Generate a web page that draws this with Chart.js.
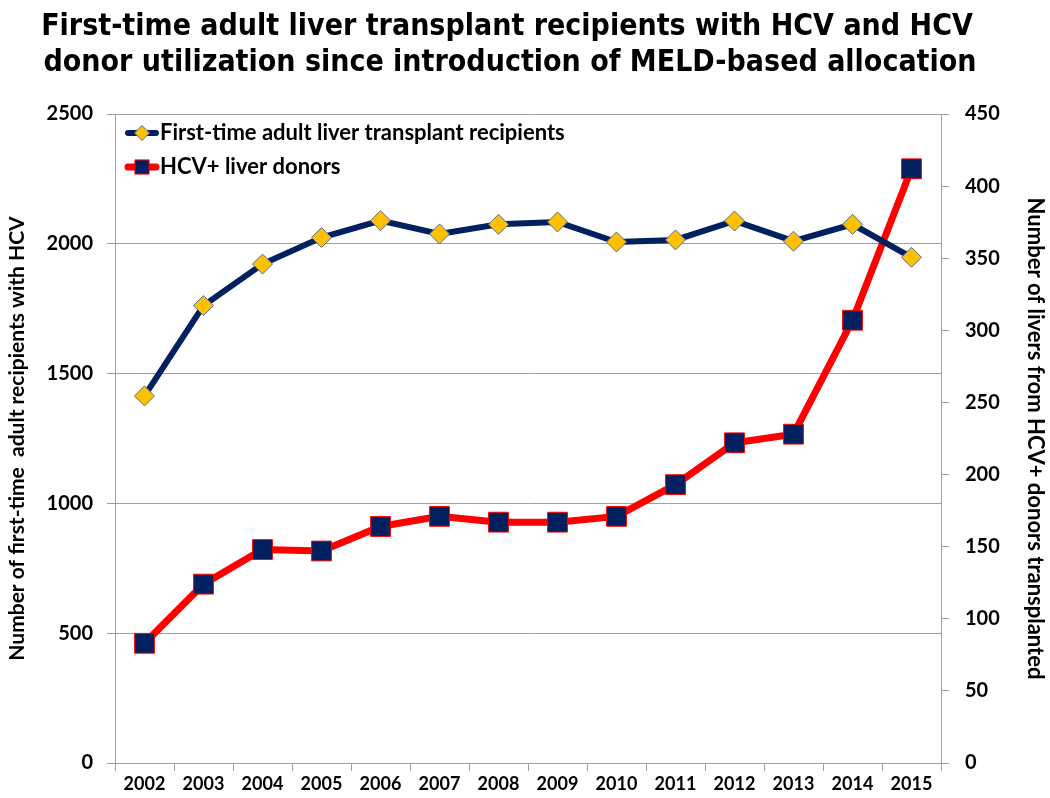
<!DOCTYPE html>
<html>
<head>
<meta charset="utf-8">
<script src="https://cdn.jsdelivr.net/npm/chart.js@4.4.1/dist/chart.umd.min.js"></script>
<style>
  html, body { margin: 0; padding: 0; background: #ffffff; }
  #wrap { width: 1050px; height: 798px; position: relative; }
</style>
</head>
<body>
<div id="wrap"><canvas id="c" width="1050" height="798"></canvas></div>
<script>
const years = ['2002','2003','2004','2005','2006','2007','2008','2009','2010','2011','2012','2013','2014','2015'];
const recipients = [1414, 1762, 1922, 2024, 2089, 2038, 2075, 2084, 2007, 2015, 2088, 2010, 2075, 1948];
const hcvDonors = [83, 124, 148, 147, 164, 171, 167, 167, 171, 193, 222, 228, 307, 412];
const leftTicks = [0, 500, 1000, 1500, 2000, 2500];
const rightTicks = [0, 50, 100, 150, 200, 250, 300, 350, 400, 450];
const seriesNames = ['First-time adult liver transplant recipients', 'HCV+ liver donors'];
const titleLines = ['First-time adult liver transplant recipients with HCV and HCV', 'donor utilization since introduction of MELD-based allocation'];
const leftAxisTitle = 'Number of first-time  adult recipients with HCV';
const rightAxisTitle = 'Number of livers from HCV+ donors transplanted';

const BODY = 'Lato, "Open Sans", sans-serif';
const TITLE_FONT = '"Liberation Sans Narrow", "DejaVu Sans Condensed", Lato, sans-serif';

const titlePlugin = {
  id: 'customTitle',
  afterDraw(chart) {
    const ctx = chart.ctx;
    ctx.save();
    ctx.fillStyle = '#000000';
    ctx.font = 'bold 30px ' + TITLE_FONT;
    ctx.textAlign = 'center';
    ctx.textBaseline = 'middle';
    ctx.fillText(titleLines[0], 507, 27);
    ctx.fillText(titleLines[1], 510, 63);
    ctx.restore();
  }
};

const legendPlugin = {
  id: 'customLegend',
  afterDatasetsDraw(chart) {
    const ctx = chart.ctx;
    const x0 = chart.chartArea.left + 10;
    const ys = [chart.chartArea.top + 19, chart.chartArea.top + 53];
    chart.data.datasets.forEach((ds, i) => {
      const y = ys[i];
      ctx.save();
      ctx.strokeStyle = ds.borderColor;
      ctx.lineWidth = ds.borderWidth;
      ctx.lineCap = 'round';
      ctx.beginPath();
      ctx.moveTo(x0 + 3, y);
      ctx.lineTo(x0 + 31, y);
      ctx.stroke();
      ctx.restore();
      ctx.save();
      ctx.fillStyle = ds.pointBackgroundColor;
      ctx.strokeStyle = ds.pointBorderColor;
      ctx.lineWidth = ds.pointBorderWidth;
      Chart.helpers.drawPoint(ctx, {
        pointStyle: ds.pointStyle,
        radius: ds.pointStyle === 'rect' ? 10 : 7.5,
        borderWidth: ds.pointBorderWidth
      }, x0 + 17, y);
      ctx.fillStyle = '#000000';
      ctx.font = 'bold 22px ' + BODY;
      ctx.textAlign = 'left';
      ctx.textBaseline = 'middle';
      ctx.fillText(ds.label, x0 + 35, y);
      ctx.restore();
    });
  }
};

new Chart(document.getElementById('c'), {
  type: 'line',
  data: {
    labels: years,
    datasets: [
      {
        label: seriesNames[0],
        data: recipients,
        yAxisID: 'yL',
        borderColor: '#002060',
        borderWidth: 6,
        pointStyle: 'rectRot',
        pointRadius: 10,
        pointHoverRadius: 10,
        pointBackgroundColor: '#FFC000',
        pointBorderColor: '#5B6B8A',
        pointBorderWidth: 1,
        tension: 0
      },
      {
        label: seriesNames[1],
        data: hcvDonors,
        yAxisID: 'yR',
        borderColor: '#FF0000',
        borderWidth: 7,
        pointStyle: 'rect',
        pointRadius: 14,
        pointHoverRadius: 14,
        pointBackgroundColor: '#002060',
        pointBorderColor: '#FF0000',
        pointBorderWidth: 1,
        tension: 0
      }
    ]
  },
  options: {
    responsive: false,
    animation: false,
    layout: { padding: { top: 114, left: 0, right: 0, bottom: 0 } },
    plugins: {
      legend: { display: false },
      title: { display: false },
      tooltip: { enabled: false }
    },
    scales: {
      x: {
        offset: true,
        grid: { display: true, drawOnChartArea: false, drawTicks: true, tickLength: 8, offset: true, color: '#a0a0a0', lineWidth: 1 },
        border: { display: true, color: '#a0a0a0', width: 1 },
        ticks: { color: '#000000', font: { family: BODY, size: 18, weight: 'bold' }, padding: 2, maxRotation: 0, autoSkip: false },
        afterFit(scale) { scale.height = 35; }
      },
      yL: {
        position: 'left',
        min: 0, max: 2500,
        afterBuildTicks(scale) { scale.ticks = leftTicks.map(v => ({ value: v })); },
        grid: { display: true, drawOnChartArea: true, drawTicks: true, tickLength: 8, color: '#a0a0a0', lineWidth: 1 },
        border: { display: true, color: '#a0a0a0', width: 1 },
        ticks: { color: '#000000', font: { family: BODY, size: 20, weight: 'bold' }, padding: 14, callback: v => String(v) },
        title: { display: true, text: leftAxisTitle, color: '#000000', font: { family: BODY, size: 21, weight: 'bold' }, padding: { top: 5, bottom: 0 } },
        afterFit(scale) { scale.width = 115; }
      },
      yR: {
        position: 'right',
        min: 0, max: 450,
        afterBuildTicks(scale) { scale.ticks = rightTicks.map(v => ({ value: v })); },
        grid: { display: true, drawOnChartArea: false, drawTicks: true, tickLength: 8, color: '#a0a0a0', lineWidth: 1 },
        border: { display: true, color: '#a0a0a0', width: 1 },
        ticks: { color: '#000000', font: { family: BODY, size: 20, weight: 'bold' }, padding: 16, callback: v => String(v) },
        title: { display: true, text: rightAxisTitle, color: '#000000', font: { family: BODY, size: 22, weight: 'bold' }, padding: { top: 2, bottom: 0 } },
        afterFit(scale) { scale.width = 109; }
      }
    }
  },
  plugins: [titlePlugin, legendPlugin]
});
</script>
</body>
</html>
